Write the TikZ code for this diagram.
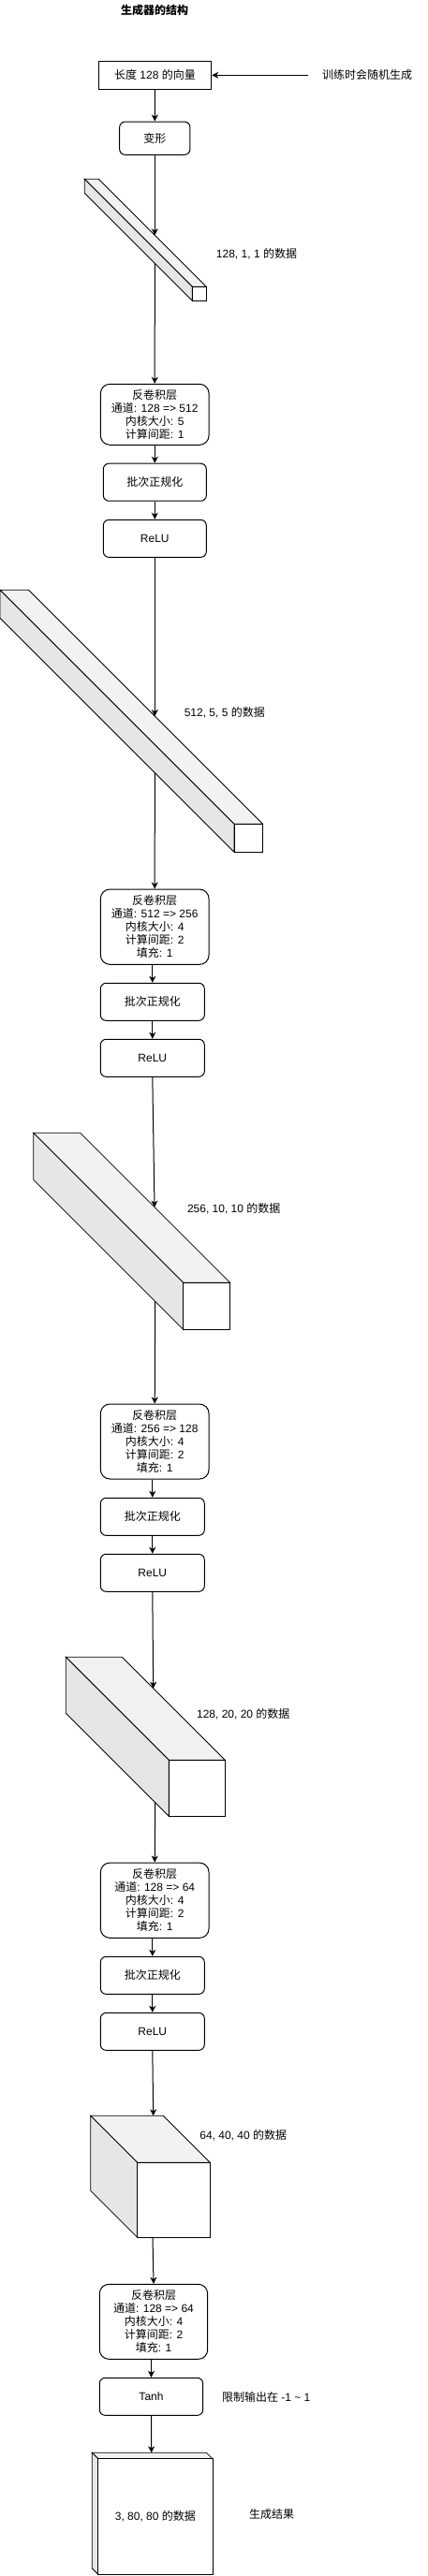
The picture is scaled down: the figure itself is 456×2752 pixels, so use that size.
\documentclass[tikz,border=0pt]{standalone}
\usepackage{fontspec}
\setmainfont{Liberation Sans}
\newfontfamily\cjk{Noto Sans CJK SC}
\newcommand\zh[1]{{\cjk #1}}
\usetikzlibrary{arrows.meta}
\definecolor{topgray}{HTML}{F2F2F2}
\definecolor{sidegray}{HTML}{E6E6E6}
\newcommand\isocube[5]{% X Y w h s  (y downward)
  \pgfmathsetmacro\icA{#1+#3-#5}%
  \pgfmathsetmacro\icB{#1+#3}%
  \pgfmathsetmacro\icC{#2+#5}%
  \pgfmathsetmacro\icD{#1+#5}%
  \pgfmathsetmacro\icE{#2+#4}%
  \pgfmathsetmacro\icF{#2+#4-#5}%
  \filldraw[cubeline, fill=topgray] (#1,#2) -- (\icA,#2) -- (\icB,\icC) -- (\icD,\icC) -- cycle;
  \filldraw[cubeline, fill=sidegray] (#1,#2) -- (\icD,\icC) -- (\icD,\icE) -- (#1,\icF) -- cycle;
  \filldraw[cubeline, fill=white] (\icD,\icC) rectangle (\icB,\icE);
}
\begin{document}
\begin{tikzpicture}[x=1pt, y=-1pt,
  txt/.style={font=\fontsize{12pt}{14pt}\selectfont, inner sep=0pt, align=center},
  plainbox/.style={txt, draw, line width=1pt},
  softbox/.style={txt, draw, line width=1pt, rounded corners=6pt, minimum width=110pt, minimum height=40pt},
  deconvbox/.style={txt, draw, line width=1pt, rounded corners=10pt, minimum width=115.7pt},
  cubeline/.style={draw=black, line width=0.8pt, line join=miter},
  conn/.style={line width=1pt},
  arr/.style={conn, -{Stealth[length=7pt, width=7pt, inset=2pt]}}]
\path[fill=white, use as bounding box] (0,0) rectangle (456,2752);

% title
\node[txt, font=\fontsize{12pt}{14pt}\selectfont\bfseries] (title) at (165,11) {\zh{\bfseries 生成器的结构}};

% input vector
\node[plainbox, minimum width=120.4pt, minimum height=30pt] (vec) at (165.5,80.3) {\zh{长度} 128 \zh{的向量}};
\node[txt] (rand) at (392,80.3) {\zh{训练时会随机生成}};
\coordinate (randend) at (329.3,80.3);
\draw[arr] (randend) -- (vec.east);

\node[softbox, minimum width=75.3pt, minimum height=35.3pt] (reshape) at (165.3,147.7) {\zh{变形}};
\draw[arr] (vec.south) -- (reshape.north);

% cube 1
\isocube{90.3}{191.3}{130}{130}{115}
\coordinate (c1in) at (165.3,251.3);
\coordinate (c1out) at (165.3,281.3);
\draw[arr] (reshape.south) -- (c1in);
\node[txt] (l1) at (274,270.7) {128, 1, 1 \zh{的数据}};

% block 1
\node[deconvbox, minimum height=65pt] (dc1) at (165.2,442.8) {\zh{反卷积层}\\\zh{通道}: 128 => 512\\\zh{内核大小}: 5\\\zh{计算间距}: 1};
\draw[arr] (c1out) -- (dc1.north);
\node[softbox] (bn1) at (165.3,515.2) {\zh{批次正规化}};
\node[softbox] (relu1) at (165.3,575.3) {ReLU};
\draw[arr] (bn1.north |- dc1.south) -- (bn1.north);
\draw[arr] (bn1.south) -- (relu1.north);

% cube 2
\isocube{0}{630.3}{280.5}{280}{250}
\coordinate (c2in) at (165.3,765.1);
\coordinate (c2out) at (165.3,825.6);
\draw[arr] (relu1.south) -- (c2in);
\node[txt] (l2) at (239.8,760.7) {512, 5, 5 \zh{的数据}};

% block 2
\node[deconvbox, minimum height=80.3pt] (dc2) at (165.2,990.2) {\zh{反卷积层}\\\zh{通道}: 512 => 256\\\zh{内核大小}: 4\\\zh{计算间距}: 2\\\zh{填充}: 1};
\draw[arr] (c2out) -- (dc2.north);
\node[softbox, minimum width=111pt] (bn2) at (162.8,1070.3) {\zh{批次正规化}};
\node[softbox, minimum width=111pt] (relu2) at (162.8,1130.3) {ReLU};
\draw[arr] (bn2.north |- dc2.south) -- (bn2.north);
\draw[arr] (bn2.south) -- (relu2.north);

% cube 3
\isocube{35.7}{1210.3}{210}{210}{160}
\coordinate (c3in) at (165,1289.6);
\coordinate (c3out) at (165.7,1390.3);
\draw[arr] (relu2.south) -- (c3in);
\node[txt] (l3) at (249.7,1290.7) {256, 10, 10 \zh{的数据}};

% block 3
\node[deconvbox, minimum height=80pt] (dc3) at (165.2,1540) {\zh{反卷积层}\\\zh{通道}: 256 => 128\\\zh{内核大小}: 4\\\zh{计算间距}: 2\\\zh{填充}: 1};
\draw[arr] (c3out) -- (dc3.north);
\node[softbox, minimum width=111pt] (bn3) at (162.8,1620.3) {\zh{批次正规化}};
\node[softbox, minimum width=111pt] (relu3) at (162.8,1680.3) {ReLU};
\draw[arr] (bn3.north |- dc3.south) -- (bn3.north);
\draw[arr] (bn3.south) -- (relu3.north);

% cube 4
\isocube{70.3}{1770.3}{170}{170}{110}
\coordinate (c4in) at (163.7,1803.7);
\coordinate (c4out) at (165.7,1925.7);
\draw[arr] (relu3.south) -- (c4in);
\node[txt] (l4) at (259.8,1831) {128, 20, 20 \zh{的数据}};

% block 4
\node[deconvbox, minimum height=80.3pt] (dc4) at (165.2,2030.2) {\zh{反卷积层}\\\zh{通道}: 128 => 64\\\zh{内核大小}: 4\\\zh{计算间距}: 2\\\zh{填充}: 1};
\draw[arr] (c4out) -- (dc4.north);
\node[softbox, minimum width=111pt] (bn4) at (162.8,2110.3) {\zh{批次正规化}};
\node[softbox, minimum width=111pt] (relu4) at (162.8,2170.3) {ReLU};
\draw[arr] (bn4.north |- dc4.south) -- (bn4.north);
\draw[arr] (bn4.south) -- (relu4.north);

% cube 5
\isocube{96.7}{2260.3}{127.6}{130}{50}
\coordinate (c5in) at (163.7,2260.3);
\coordinate (c5out) at (163,2390.3);
\draw[arr] (relu4.south) -- (c5in);
\node[txt] (l5) at (259.7,2280.7) {64, 40, 40 \zh{的数据}};

% block 5
\node[deconvbox, minimum width=115.4pt, minimum height=80pt] (dc5) at (164,2480.3) {\zh{反卷积层}\\\zh{通道}: 128 => 64\\\zh{内核大小}: 4\\\zh{计算间距}: 2\\\zh{填充}: 1};
\draw[arr] (c5out) -- (dc5.north);
\node[softbox, minimum width=110.4pt] (tanh) at (161.5,2560.3) {Tanh};
\draw[arr] (tanh.north |- dc5.south) -- (tanh.north);
\node[txt] (l6) at (284.2,2560.7) {\zh{限制输出在} -1 \textasciitilde{} 1};

% output
\isocube{98.3}{2620.3}{128.7}{130}{6.5}
\coordinate (c6in) at (161.7,2620.3);
\node[txt] (out) at (165.9,2688.5) {3, 80, 80 \zh{的数据}};
\draw[arr] (tanh.south) -- (c6in);
\node[txt] (res) at (290,2685.7) {\zh{生成结果}};
\end{tikzpicture}
\end{document}
